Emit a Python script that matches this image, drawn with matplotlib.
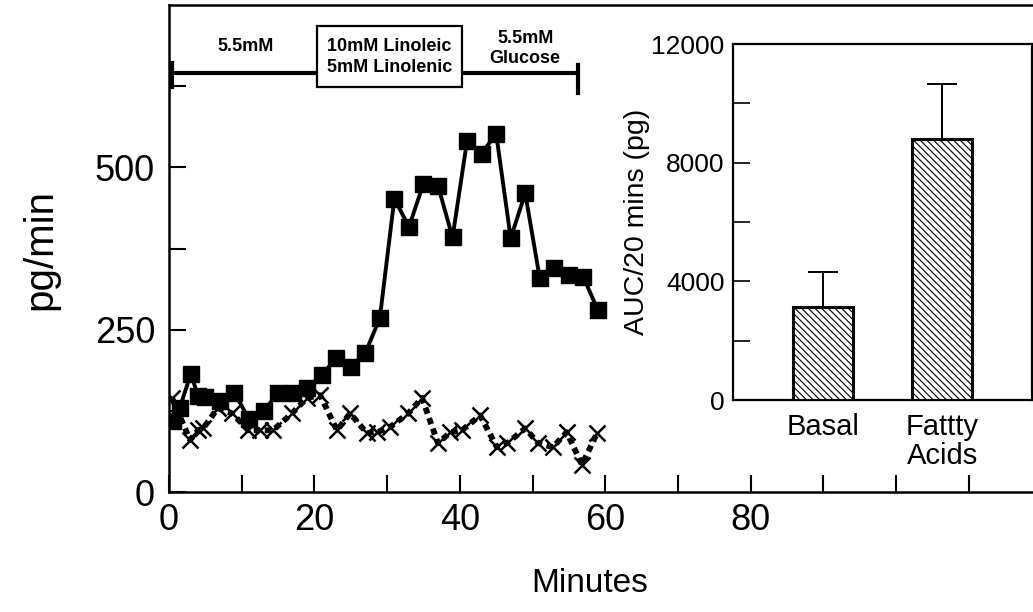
import matplotlib
matplotlib.use("Agg")
import matplotlib.pyplot as plt
from matplotlib.patches import Rectangle
from matplotlib import font_manager

plt.rcParams['font.family'] = ['Liberation Sans', 'DejaVu Sans']
plt.rcParams['hatch.linewidth'] = 0.8

# ---- data: fatty-acid perfusion (squares, solid) ----
fa_minutes = [0.5, 1.5, 3, 4, 5, 7, 9, 11, 13, 15, 17, 19, 21, 23, 25, 27, 29,
              31, 33, 35, 37, 39, 41, 43, 45, 47, 49, 51, 53, 55, 57, 59]
fa_values = [110, 130, 182, 148, 146, 140, 153, 112, 125, 152, 152, 160, 180, 206, 193, 214, 268,
             452, 408, 475, 472, 392, 541, 521, 552, 391, 460, 329, 345, 334, 331, 280]

# ---- data: control (crosses, dashed) ----
ctl_minutes = [0.4, 2.9, 4.0, 4.7, 6.7, 8.7, 10.9, 12.5, 14.3, 16.9, 19.0, 20.8, 23.1, 24.9,
               27.2, 28.6, 30.4, 32.9, 34.8, 37.0, 38.7, 40.3, 42.8, 45.1, 46.5, 49.0,
               50.8, 52.8, 54.7, 56.8, 58.9]
ctl_values = [145, 80, 95, 98, 129, 121, 95, 95, 95, 121, 145, 149, 95, 121,
              91, 92, 100, 121, 145, 75, 92, 95, 118, 69, 75, 98,
              75, 69, 92, 42, 91]

# ---- inset bar data ----
bar_labels = ['Basal', 'Fattty\nAcids']
bar_values = [3150, 8800]
bar_errors = [1150, 1850]

names = {f.name for f in font_manager.fontManager.ttflist}
narrow = ['Liberation Sans Narrow'] if 'Liberation Sans Narrow' in names else []

W, H = 1033, 612
fig = plt.figure(figsize=(W / 100, H / 100), dpi=100)

# main axes: x 0 at px 169, 7.27 px/min ; y 0 at px 492, 0.65 px/unit
left_px, bottom_px, top_px = 169, 492, 5
xmax = 120
ax = fig.add_axes([left_px / W, (H - bottom_px) / H, xmax * 7.27 / W, (bottom_px - top_px) / H])
ax.set_xlim(0, xmax)
ax.set_ylim(0, 750)

ax.plot(fa_minutes, fa_values, color='black', lw=2.8, marker='s', ms=11.5, mfc='black',
        mec='black', zorder=4, solid_joinstyle='miter')
ax.plot(ctl_minutes, ctl_values, color='black', lw=4.2, ls=(0, (1.1, 0.8)), marker='x', ms=12,
        mew=1.8, mec='black', zorder=3)

ax.set_xticks(range(0, 121, 10))
ax.set_xticklabels(['0', '', '20', '', '40', '', '60', '', '80', '', '', '', ''])
ax.set_yticks([0, 125, 250, 375, 500, 625])
ax.set_yticklabels(['0', '', '250', '', '500', ''])
ax.tick_params(direction='in', length=12, width=1.5, labelsize=26, pad=8)
ax.tick_params(axis='y', pad=10)
for s in ['left', 'bottom', 'top']:
    ax.spines[s].set_linewidth(1.8)
ax.spines['right'].set_visible(False)

fig.text(590 / W, 1 - 583 / H, 'Minutes', fontsize=27 if narrow else 24,
         family=narrow + ['Liberation Sans', 'DejaVu Sans'], ha='center', va='center')
fig.text(40 / W, 1 - 250 / H, 'pg/min', fontsize=29, rotation=90, ha='center', va='center')

# protocol bar
bar_y = 645
ax.plot([0, 20.4], [bar_y, bar_y], color='black', lw=3, solid_capstyle='butt', zorder=5)
ax.plot([40.3, 56.3], [bar_y, bar_y], color='black', lw=3, solid_capstyle='butt', zorder=5)
ax.plot([0.4, 0.4], [623, 660], color='black', lw=3, zorder=5)
ax.plot([56.3, 56.3], [614, 657], color='black', lw=3, zorder=5)
ax.add_patch(Rectangle((20.4, 623), 19.9, 95, facecolor='white', edgecolor='black', lw=1.6, zorder=6))
ax.text(30.35, 670, '10mM Linoleic\n5mM Linolenic', ha='center', va='center', fontsize=13,
        fontweight='bold', linespacing=1.25, zorder=7)
ax.text(10.5, 686, '5.5mM', ha='center', va='center', fontsize=13, fontweight='bold')
ax.text(49.0, 683, '5.5mM\nGlucose', ha='center', va='center', fontsize=13, fontweight='bold',
        linespacing=1.25)

# inset
il, it, ir, ib = 733, 44, 1032, 400
ax2 = fig.add_axes([il / W, (H - ib) / H, (ir - il) / W, (ib - it) / H])
ax2.set_xlim(0.25, 2.75)
ax2.set_ylim(0, 12000)
pos = [1, 2]
ax2.bar(pos, bar_values, width=0.5, color='white', edgecolor='black', lw=2.2, hatch='\\\\\\\\\\',
        yerr=[[0, 0], bar_errors], capsize=11, error_kw=dict(elinewidth=1.4, capthick=1.4, ecolor='black'),
        zorder=3)
ax2.set_xticks([])
ax2.set_yticks([0, 4000, 8000, 12000])
ax2.set_yticks([2000, 6000, 10000], minor=True)
ax2.tick_params(axis='y', which='both', direction='in', length=12, width=1.2, labelsize=19, pad=6)
for s in ax2.spines.values():
    s.set_linewidth(1.6)
ax2.set_ylabel('AUC/20 mins (pg)', fontsize=20.5, labelpad=1)
for p, lab in zip(pos, bar_labels):
    ax2.text(p, -450, lab, ha='center', va='top', fontsize=21, linespacing=1.05)

fig.savefig('out.png', dpi=100)
